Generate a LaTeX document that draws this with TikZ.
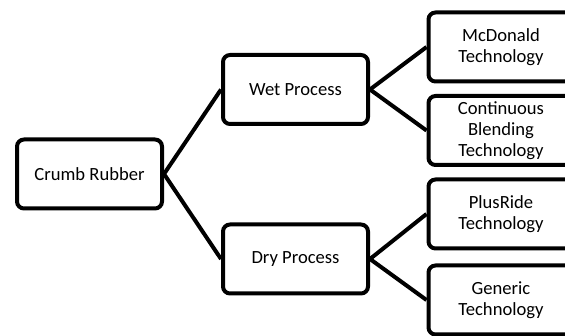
\documentclass[tikz,border=0pt]{standalone}
\usepackage{fontspec}
\setmainfont{Carlito}
\begin{document}
\begin{tikzpicture}[x=1pt, y=-1pt,
  box/.style={draw, line width=4pt, rounded corners=7pt, align=center,
    minimum width=145pt, minimum height=69pt, inner sep=0pt,
    font=\fontsize{18.6}{21}\selectfont},
  link/.style={line width=4pt}]
\useasboundingbox (0,0) rectangle (565,336);
\clip (0,0) rectangle (565,336);

% Root and processes
\node[box] (crumb) at (89.5,174) {Crumb Rubber};
\node[box] (wet) at (295.5,89.5) {Wet Process};
\node[box] (dry) at (295.5,259) {Dry Process};

% Technologies
\node[box] (mcd) at (501,47) {McDonald\\Technology};
\node[box] (cont) at (501,130.5) {Continuous\\Blending\\Technology};
\node[box] (plus) at (501,214) {PlusRide\\Technology};
\node[box] (gen) at (501,300) {Generic\\Technology};

% Links
\draw[link] (crumb.east) -- (wet.west);
\draw[link] (crumb.east) -- (dry.west);
\draw[link] (wet.east) -- (mcd.west);
\draw[link] (wet.east) -- (cont.west);
\draw[link] (dry.east) -- (plus.west);
\draw[link] (dry.east) -- (gen.west);
\end{tikzpicture}
\end{document}
